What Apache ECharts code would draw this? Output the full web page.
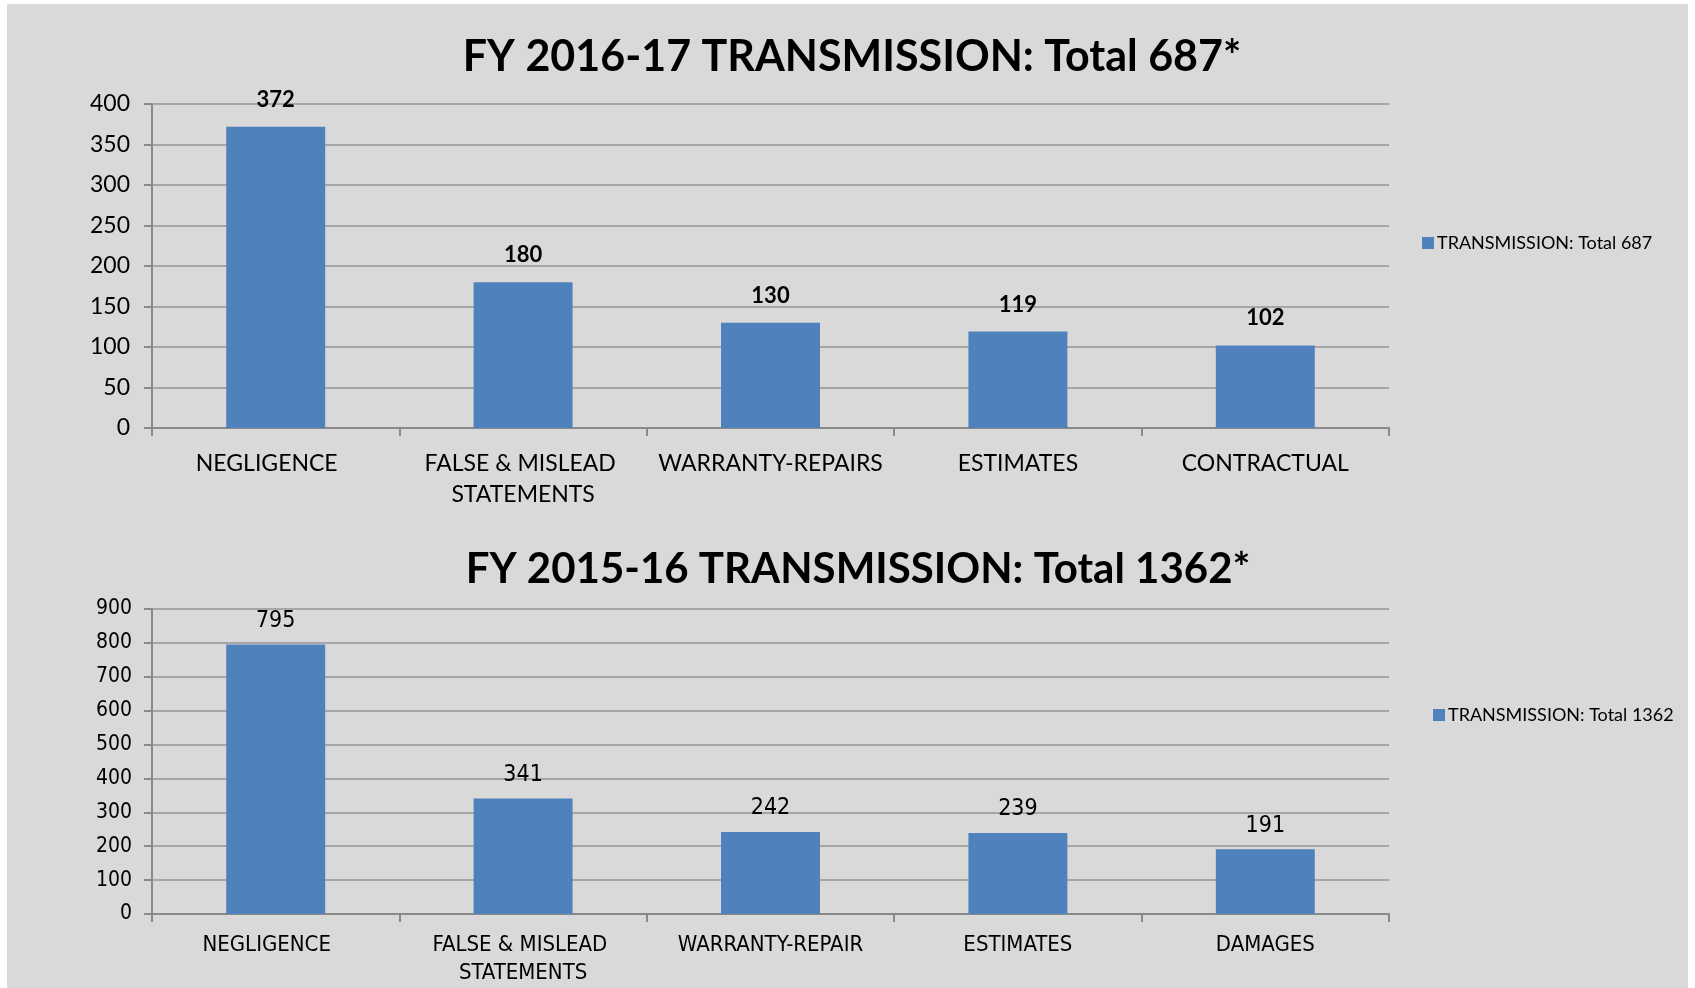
<!DOCTYPE html>
<html>
<head>
<meta charset="utf-8">
<script src="https://cdn.jsdelivr.net/npm/echarts@6/dist/echarts.min.js"></script>
<style>
  html, body { margin: 0; padding: 0; background: #fff; }
  #chart { width: 1695px; height: 988px; }
</style>
</head>
<body>
<div id="chart"></div>
<script>
(function () {
  // FY 2016-17
  var cats1617 = ['NEGLIGENCE', 'FALSE & MISLEAD STATEMENTS', 'WARRANTY-REPAIRS', 'ESTIMATES', 'CONTRACTUAL'];
  var vals1617 = [372, 180, 130, 119, 102];
  var title1617 = 'FY 2016-17 TRANSMISSION: Total 687*';
  var name1617 = 'TRANSMISSION: Total 687';

  // FY 2015-16
  var cats1516 = ['NEGLIGENCE', 'FALSE & MISLEAD STATEMENTS', 'WARRANTY-REPAIR', 'ESTIMATES', 'DAMAGES'];
  var vals1516 = [795, 341, 242, 239, 191];
  var title1516 = 'FY 2015-16 TRANSMISSION: Total 1362*';
  var name1516 = 'TRANSMISSION: Total 1362';

  var calibri = 'Lato, "Open Sans", sans-serif';
  var narrow = '"Liberation Sans Narrow", "Arial Narrow", "DejaVu Sans Condensed", sans-serif';
  var barColor = '#4f81bd';
  var axisGray = '#898989';
  var gridGray = '#a6a6a6';

  var myChart = echarts.init(document.getElementById('chart'));

  function xAx(idx, data, font, size, margin, lh) {
    return {
      type: 'category',
      gridIndex: idx,
      data: data,
      axisLine: { lineStyle: { color: axisGray, width: 2 } },
      axisTick: { show: true, length: 8, lineStyle: { color: axisGray, width: 2 } },
      axisLabel: {
        interval: 0, color: '#000', fontFamily: font, fontSize: size,
        margin: margin, lineHeight: lh, width: 240, overflow: 'break',
        // first label sits a little left of its bar in the original
        formatter: function (v, i) { return i === 0 ? '{a|' + v + '}' : v; },
        rich: { a: { fontFamily: font, fontSize: size, color: '#000', padding: [0, 18, 0, 0] } }
      }
    };
  }
  function yAx(idx, max, step, font, size, margin) {
    return {
      type: 'value',
      gridIndex: idx,
      min: 0, max: max, interval: step,
      axisLine: { show: true, lineStyle: { color: axisGray, width: 2 } },
      axisTick: { show: true, length: 8, lineStyle: { color: axisGray, width: 2 } },
      splitLine: { lineStyle: { color: gridGray, width: 2 } },
      axisLabel: { color: '#000', fontFamily: font, fontSize: size, margin: margin }
    };
  }

  myChart.setOption({
    backgroundColor: '#ffffff',
    animation: false,
    graphic: [
      { type: 'rect', z: -10, shape: { x: 7, y: 4, width: 1681, height: 514 }, style: { fill: '#d9d9d9' } },
      { type: 'rect', z: -10, shape: { x: 7, y: 516, width: 1681, height: 472 }, style: { fill: '#d9d9d9' } }
    ],
    title: [
      { text: title1617, left: 847, top: 31, textAlign: 'center',
        textStyle: { fontFamily: calibri, fontWeight: 'bold', fontSize: 43, color: '#000' } },
      { text: title1516, left: 853, top: 543, textAlign: 'center',
        textStyle: { fontFamily: calibri, fontWeight: 'bold', fontSize: 42, color: '#000' } }
    ],
    legend: [
      { data: [name1617], left: 1417, top: 229, itemWidth: 12, itemHeight: 12, itemGap: 5,
        icon: 'rect', textStyle: { fontFamily: calibri, fontSize: 18, color: '#000', padding: [0, 0, 0, -2] } },
      { data: [name1516], left: 1428, top: 701, itemWidth: 12, itemHeight: 12, itemGap: 5,
        icon: 'rect', textStyle: { fontFamily: calibri, fontSize: 18, color: '#000', padding: [0, 0, 0, -2] } }
    ],
    grid: [
      { left: 152, top: 104, width: 1237, height: 324 },
      { left: 152, top: 609, width: 1237, height: 305 }
    ],
    xAxis: [
      xAx(0, cats1617, calibri, 23, 20, 31),
      xAx(1, cats1516, narrow, 22, 17, 28)
    ],
    yAxis: [
      yAx(0, 400, 50, calibri, 23, 22),
      yAx(1, 900, 100, narrow, 21, 20)
    ],
    series: [
      {
        name: name1617, type: 'bar', xAxisIndex: 0, yAxisIndex: 0,
        data: vals1617, barWidth: '40%',
        itemStyle: { color: barColor },
        label: { show: true, position: 'top', distance: 16, color: '#000',
          fontFamily: calibri, fontWeight: 'bold', fontSize: 22 }
      },
      {
        name: name1516, type: 'bar', xAxisIndex: 1, yAxisIndex: 1,
        data: vals1516, barWidth: '40%',
        itemStyle: { color: barColor },
        label: { show: true, position: 'top', distance: 12, color: '#000',
          fontFamily: narrow, fontSize: 23 }
      }
    ]
  });

  window.addEventListener('resize', function () {
    myChart.resize();
  });
})();
</script>
</body>
</html>
